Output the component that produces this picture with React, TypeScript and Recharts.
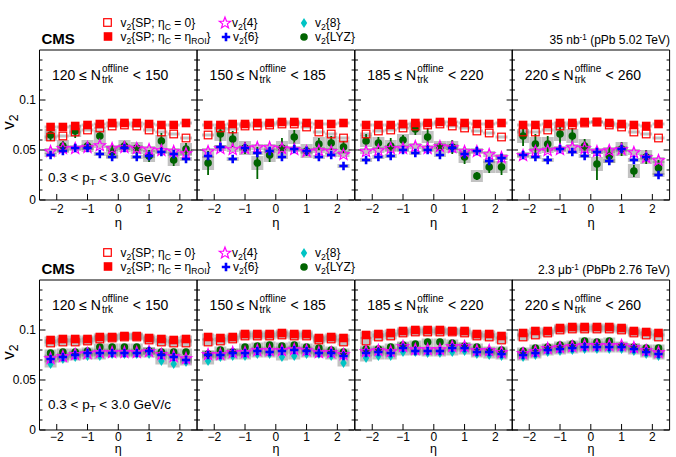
import React from 'react';
import { ScatterChart, Scatter, XAxis, YAxis, ErrorBar } from 'recharts';

const FONT = '"Liberation Sans", Arial, Helvetica, sans-serif';

// pseudorapidity bin centres (bin width 0.4)
const etaBins = [-2.2, -1.8, -1.4, -1.0, -0.6, -0.2, 0.2, 0.6, 1.0, 1.4, 1.8, 2.2];

// multiplicity classes, one per column
const multLow = [120, 150, 185, 220];
const multHigh = [150, 185, 220, 260];

// axis ticks
const xMajorTicks = [-2, -1, 0, 1, 2];
const xMinorTicks = [-2.4, -2.2, -1.8, -1.6, -1.4, -1.2, -0.8, -0.6, -0.4, -0.2, 0.2, 0.4, 0.6, 0.8, 1.2, 1.4, 1.6, 1.8, 2.2, 2.4];
const yMajorTicks = [0, 0.05, 0.1];
const yMinorTicks = [0.01, 0.02, 0.03, 0.04, 0.06, 0.07, 0.08, 0.09, 0.11, 0.12, 0.13, 0.14];

// ---- pPb 5.02 TeV ----
const spZeroPPb = [
  [0.063, 0.064, 0.068, 0.070, 0.072, 0.074, 0.075, 0.074, 0.070, 0.068, 0.066, 0.062],
  [0.065, 0.072, 0.071, 0.074, 0.074, 0.075, 0.076, 0.076, 0.073, 0.068, 0.066, 0.062],
  [0.066, 0.069, 0.070, 0.072, 0.074, 0.075, 0.076, 0.074, 0.072, 0.069, 0.067, 0.063],
  [0.068, 0.068, 0.070, 0.074, 0.075, 0.077, 0.078, 0.075, 0.073, 0.068, 0.066, 0.062],
];
const spRoiPPb = [
  [0.073, 0.073, 0.074, 0.075, 0.076, 0.077, 0.077, 0.077, 0.076, 0.075, 0.075, 0.077],
  [0.075, 0.075, 0.076, 0.076, 0.077, 0.077, 0.078, 0.078, 0.077, 0.076, 0.076, 0.077],
  [0.075, 0.075, 0.075, 0.076, 0.077, 0.077, 0.078, 0.078, 0.077, 0.076, 0.076, 0.077],
  [0.075, 0.075, 0.076, 0.077, 0.077, 0.078, 0.078, 0.077, 0.076, 0.075, 0.074, 0.076],
];
const cum4PPb = [
  [0.049, 0.052, 0.052, 0.053, 0.055, 0.052, 0.053, 0.052, 0.051, 0.050, 0.049, 0.047],
  [0.049, 0.052, 0.051, 0.052, 0.053, 0.053, 0.052, 0.051, 0.049, 0.050, 0.049, 0.046],
  [0.049, 0.050, 0.052, 0.052, 0.054, 0.052, 0.054, 0.053, 0.049, 0.049, 0.046, 0.043],
  [0.045, 0.049, 0.050, 0.051, 0.053, 0.052, 0.049, 0.050, 0.051, 0.048, 0.043, 0.040],
];
const cum6PPb = [
  [0.045, 0.049, 0.052, 0.052, 0.046, 0.043, 0.052, 0.043, 0.044, 0.048, 0.046, 0.041],
  [0.044, 0.053, 0.041, 0.052, 0.047, 0.049, 0.043, 0.051, 0.049, 0.043, 0.045, 0.034],
  [0.040, 0.043, 0.044, 0.050, 0.047, 0.050, 0.045, 0.052, 0.046, 0.049, 0.039, 0.042],
  [0.045, 0.043, 0.040, 0.051, 0.048, 0.044, 0.048, 0.039, 0.051, 0.040, 0.043, 0.025],
];
const lyzPPb = [
  [0.065, 0.054, 0.069, 0.054, 0.064, 0.048, 0.054, 0.052, 0.044, 0.059, 0.040, 0.051],
  [0.037, 0.066, 0.061, 0.052, 0.037, 0.045, 0.052, 0.063, 0.049, 0.056, 0.057, 0.053],
  [0.059, 0.057, 0.054, 0.060, 0.071, 0.063, 0.053, 0.053, 0.043, 0.024, 0.033, 0.033],
  [0.064, 0.056, 0.056, 0.066, 0.064, 0.054, 0.036, 0.044, 0.051, 0.029, 0.043, 0.032],
];
const lyzStatPPb = [
  [0.006, 0.005, 0.007, 0.004, 0.004, 0.007, 0.005, 0.005, 0.006, 0.008, 0.006, 0.006],
  [0.012, 0.013, 0.008, 0.006, 0.016, 0.007, 0.010, 0.007, 0.005, 0.006, 0.007, 0.006],
  [0.007, 0.006, 0.008, 0.005, 0.006, 0.009, 0.006, 0.007, 0.007, 0.004, 0.006, 0.008],
  [0.010, 0.010, 0.008, 0.010, 0.008, 0.007, 0.016, 0.009, 0.007, 0.006, 0.007, 0.008],
];
const lyzSysPPb = [0.006, 0.007, 0.006, 0.007];

// ---- PbPb 2.76 TeV ----
const spZeroPbPb = [
  [0.087, 0.088, 0.088, 0.089, 0.091, 0.092, 0.093, 0.093, 0.090, 0.088, 0.087, 0.087],
  [0.088, 0.089, 0.091, 0.094, 0.094, 0.094, 0.095, 0.094, 0.094, 0.090, 0.091, 0.088],
  [0.089, 0.093, 0.094, 0.097, 0.098, 0.098, 0.098, 0.098, 0.097, 0.094, 0.093, 0.090],
  [0.093, 0.095, 0.097, 0.100, 0.101, 0.101, 0.101, 0.101, 0.100, 0.097, 0.095, 0.093],
];
const spRoiPbPb = [
  [0.090, 0.091, 0.091, 0.091, 0.093, 0.093, 0.094, 0.094, 0.092, 0.091, 0.090, 0.091],
  [0.093, 0.092, 0.093, 0.096, 0.096, 0.096, 0.097, 0.096, 0.096, 0.092, 0.093, 0.092],
  [0.095, 0.096, 0.097, 0.099, 0.100, 0.100, 0.100, 0.099, 0.099, 0.096, 0.096, 0.094],
  [0.097, 0.099, 0.099, 0.102, 0.103, 0.103, 0.103, 0.103, 0.102, 0.099, 0.098, 0.097],
];
const cum4PbPb = [
  [0.072, 0.074, 0.076, 0.077, 0.078, 0.078, 0.078, 0.078, 0.079, 0.076, 0.074, 0.072],
  [0.076, 0.076, 0.078, 0.078, 0.080, 0.080, 0.080, 0.081, 0.080, 0.078, 0.078, 0.076],
  [0.079, 0.080, 0.079, 0.084, 0.081, 0.081, 0.081, 0.084, 0.084, 0.080, 0.080, 0.078],
  [0.077, 0.079, 0.082, 0.083, 0.084, 0.085, 0.085, 0.085, 0.085, 0.083, 0.080, 0.078],
];
const cum6PbPb = [
  [0.071, 0.073, 0.075, 0.077, 0.077, 0.077, 0.077, 0.077, 0.079, 0.075, 0.073, 0.070],
  [0.075, 0.075, 0.077, 0.077, 0.079, 0.078, 0.079, 0.080, 0.079, 0.077, 0.077, 0.074],
  [0.077, 0.078, 0.077, 0.082, 0.079, 0.079, 0.079, 0.082, 0.082, 0.078, 0.078, 0.076],
  [0.075, 0.077, 0.080, 0.081, 0.082, 0.083, 0.083, 0.083, 0.083, 0.081, 0.078, 0.076],
];
const cum8PbPb = [
  [0.066, 0.071, 0.073, 0.074, 0.074, 0.076, 0.076, 0.076, 0.076, 0.069, 0.066, 0.068],
  [0.069, 0.073, 0.074, 0.074, 0.076, 0.076, 0.073, 0.074, 0.076, 0.076, 0.074, 0.067],
  [0.072, 0.074, 0.074, 0.078, 0.078, 0.077, 0.077, 0.078, 0.079, 0.076, 0.075, 0.074],
  [0.073, 0.075, 0.078, 0.079, 0.080, 0.081, 0.081, 0.081, 0.081, 0.079, 0.076, 0.074],
];
const lyzPbPb = [
  [0.077, 0.078, 0.078, 0.079, 0.083, 0.083, 0.083, 0.083, 0.079, 0.078, 0.078, 0.078],
  [0.076, 0.080, 0.078, 0.083, 0.084, 0.085, 0.084, 0.085, 0.083, 0.082, 0.080, 0.078],
  [0.081, 0.081, 0.083, 0.085, 0.086, 0.088, 0.088, 0.087, 0.084, 0.083, 0.079, 0.080],
  [0.079, 0.082, 0.083, 0.085, 0.086, 0.089, 0.088, 0.089, 0.084, 0.083, 0.082, 0.082],
];

// systematic half-heights of the grey boxes
const sysSpPPb = 0.0015;
const sysCum4PPb = 0.003;
const sysCum6PPb = 0.002;
const sysPbPb = 0.0035;
const statLyzPbPb = 0.0008;

// layout
const X_DOMAIN: [number, number] = [-2.56, 2.56];
const Y_DOMAIN: [number, number] = [0, 0.15];
const PLOT_X0 = 39.5;
const PLOT_W = 157.6;
const PLOT_H = 150;
const ROW_TOP = [49.5, 279.5];
const ROW_SHIFT = 230;
const THIN = 0.001; // axis band thickness (axes must be non-empty to render)

const RED = '#ff0000';
const MAGENTA = '#ff00ff';
const BLUE = '#0000ff';
const CYAN = '#00c4c4';
const GREEN = '#006400';
const BOX = 'rgba(120,120,120,0.45)';

type Pt = { eta: number; v: number; sys: number; err: number };

const toPoints = (vals: number[], sys: number, err: number | number[] = 0): Pt[] =>
  etaBins.map((eta, k) => ({
    eta,
    v: vals[k],
    sys,
    err: Array.isArray(err) ? err[k] : err,
  }));

const fmtEta = (v: number) => (v < 0 ? '\u2212' + Math.abs(v) : String(v));

// ---- marker shapes ----
const Hidden = () => <g />;
const NoLabel = () => <g />;

const OpenSquare = ({ cx, cy }: any) =>
  cx == null ? <g /> : (
    <rect x={cx - 3.8} y={cy - 3.8} width={7.6} height={7.6} fill="none" stroke={RED} strokeWidth={1.2} />
  );
const FilledSquare = ({ cx, cy }: any) =>
  cx == null ? <g /> : <rect x={cx - 4.3} y={cy - 4.3} width={8.6} height={8.6} fill={RED} />;
const starPath = (cx: number, cy: number, R: number, r: number) => {
  let d = '';
  for (let k = 0; k < 10; k++) {
    const a = -Math.PI / 2 + (k * Math.PI) / 5;
    const rad = k % 2 === 0 ? R : r;
    d += (k ? 'L' : 'M') + (cx + rad * Math.cos(a)).toFixed(2) + ',' + (cy + rad * Math.sin(a)).toFixed(2);
  }
  return d + 'Z';
};
const StarMark = ({ cx, cy }: any) =>
  cx == null ? <g /> : <path d={starPath(cx, cy + 0.6, 6, 2.5)} fill="none" stroke={MAGENTA} strokeWidth={1.2} strokeLinejoin="miter" />;
const CrossMark = ({ cx, cy }: any) =>
  cx == null ? <g /> : (
    <path d={`M${cx - 4.2},${cy}H${cx + 4.2}M${cx},${cy - 4.2}V${cy + 4.2}`} stroke={BLUE} strokeWidth={2.6} fill="none" />
  );
const DiamondMark = ({ cx, cy }: any) =>
  cx == null ? <g /> : (
    <path d={`M${cx},${cy - 5}L${cx + 3.2},${cy}L${cx},${cy + 5}L${cx - 3.2},${cy}Z`} fill={CYAN} />
  );
const CircleMark = ({ cx, cy }: any) =>
  cx == null ? <g /> : <circle cx={cx} cy={cy} r={3.8} fill={GREEN} />;

// ---- text helpers ----
const Sub = ({ children }: any) => (
  <span style={{ fontSize: '0.72em', position: 'relative', top: '0.32em' }}>{children}</span>
);
const Sup = ({ children }: any) => (
  <span style={{ fontSize: '0.68em', position: 'relative', top: '-0.5em' }}>{children}</span>
);
const SubSup = ({ sup, sub, w }: any) => (
  <span style={{ position: 'relative', display: 'inline-block', width: w, height: 0 }}>
    <span style={{ position: 'absolute', left: 1, top: -15.3, fontSize: 10, lineHeight: '10px' }}>{sup}</span>
    <span style={{ position: 'absolute', left: 1, top: -4.3, fontSize: 10, lineHeight: '10px' }}>{sub}</span>
  </span>
);

function Panel({ row, col }: { row: number; col: number }) {
  const pPb = row === 0;
  const first = col === 0;
  const plotLeft = PLOT_X0 + col * PLOT_W;
  const mLeft = first ? plotLeft : 1;
  const width = mLeft + PLOT_W + 1;
  const height = 1 + PLOT_H + 34;

  const sp0 = toPoints((pPb ? spZeroPPb : spZeroPbPb)[col], pPb ? sysSpPPb : sysPbPb);
  const spR = toPoints((pPb ? spRoiPPb : spRoiPbPb)[col], pPb ? sysSpPPb : sysPbPb);
  const c4 = toPoints((pPb ? cum4PPb : cum4PbPb)[col], pPb ? sysCum4PPb : sysPbPb);
  const c6 = toPoints((pPb ? cum6PPb : cum6PbPb)[col], pPb ? sysCum6PPb : sysPbPb);
  const c8 = pPb ? [] : toPoints(cum8PbPb[col], sysPbPb);
  const lyz = pPb
    ? toPoints(lyzPPb[col], lyzSysPPb[col], lyzStatPPb[col])
    : toPoints(lyzPbPb[col], sysPbPb, statLyzPbPb);

  const all = [sp0, spR, c4, c6, c8, lyz];
  const ax = { type: 'number' as const, allowDataOverflow: true, interval: 0 as const, stroke: '#000' };
  // margins leave room for the four hairline-thin axis bands
  const m = { top: 1 - 2 * THIN, right: 1 - 2 * THIN, bottom: 34 - 2 * THIN, left: mLeft - 2 * THIN };

  return (
    <div style={{ position: 'absolute', left: plotLeft - mLeft, top: ROW_TOP[row] - 1 }}>
      <ScatterChart width={width} height={height} margin={m}>
        <XAxis xAxisId="xm" domain={X_DOMAIN} ticks={xMinorTicks} height={THIN} tickSize={-3} tick={NoLabel} axisLine={false} {...ax} />
        <XAxis
          xAxisId="x"
          dataKey="eta"
          domain={X_DOMAIN}
          ticks={xMajorTicks}
          height={THIN}
          tickSize={-6}
          tickMargin={pPb ? 10 : 8}
          tickFormatter={fmtEta}
          tick={{ fill: '#000', fontSize: 12 }}
          {...ax}
        />
        <XAxis xAxisId="xtm" orientation="top" domain={X_DOMAIN} ticks={xMinorTicks} height={THIN} tickSize={-3} tick={NoLabel} axisLine={false} {...ax} />
        <XAxis xAxisId="xt" orientation="top" domain={X_DOMAIN} ticks={xMajorTicks} height={THIN} tickSize={-6} tick={NoLabel} {...ax} />
        <YAxis yAxisId="ym" domain={Y_DOMAIN} ticks={yMinorTicks} width={THIN} tickSize={-3} tick={NoLabel} axisLine={false} {...ax} />
        <YAxis
          yAxisId="y"
          dataKey="v"
          domain={Y_DOMAIN}
          ticks={yMajorTicks}
          width={THIN}
          tickSize={-6}
          tickMargin={9.5}
          tick={first ? { fill: '#000', fontSize: 12 } : NoLabel}
          {...ax}
        />
        <YAxis yAxisId="yrm" orientation="right" domain={Y_DOMAIN} ticks={yMinorTicks} width={THIN} tickSize={-3} tick={NoLabel} axisLine={false} {...ax} />
        <YAxis yAxisId="yr" orientation="right" domain={Y_DOMAIN} ticks={yMajorTicks} width={THIN} tickSize={-6} tick={NoLabel} {...ax} />

        {all.map((pts, k) => (
          <Scatter key={'sys' + k} data={pts} xAxisId="x" yAxisId="y" shape={Hidden} isAnimationActive={false}>
            <ErrorBar dataKey="sys" direction="y" width={0} stroke={BOX} strokeWidth={12} isAnimationActive={false} />
          </Scatter>
        ))}
        <Scatter data={lyz} xAxisId="x" yAxisId="y" shape={CircleMark} isAnimationActive={false}>
          <ErrorBar dataKey="err" direction="y" width={0} stroke={GREEN} strokeWidth={1.8} isAnimationActive={false} />
        </Scatter>
        <Scatter data={sp0} xAxisId="x" yAxisId="y" shape={OpenSquare} isAnimationActive={false} />
        <Scatter data={spR} xAxisId="x" yAxisId="y" shape={FilledSquare} isAnimationActive={false} />
        <Scatter data={c8} xAxisId="x" yAxisId="y" shape={DiamondMark} isAnimationActive={false} />
        <Scatter data={c4} xAxisId="x" yAxisId="y" shape={StarMark} isAnimationActive={false} />
        <Scatter data={c6} xAxisId="x" yAxisId="y" shape={CrossMark} isAnimationActive={false} />
      </ScatterChart>
    </div>
  );
}

function Header({ row, lumi }: { row: number; lumi: React.ReactNode }) {
  const dy = row * ROW_SHIFT;
  const txt = { position: 'absolute' as const, fontSize: 12, lineHeight: '12px', whiteSpace: 'nowrap' as const };
  return (
    <>
      <svg width={676} height={50} style={{ position: 'absolute', left: 0, top: dy }}>
        <OpenSquare cx={107.5} cy={22.5} />
        <FilledSquare cx={108} cy={36.5} />
        <StarMark cx={225} cy={22.5} />
        <CrossMark cx={226} cy={37} />
        <DiamondMark cx={304} cy={23} />
        <CircleMark cx={304} cy={37} />
      </svg>
      <div style={{ ...txt, left: 120.5, top: 17 + dy }}>
        v<Sub>2</Sub>{'{'}SP; η<Sub>C</Sub> = 0{'}'}
      </div>
      <div style={{ ...txt, left: 120.5, top: 31 + dy }}>
        v<Sub>2</Sub>{'{'}SP; η<Sub>C</Sub> = η<Sub>ROI</Sub>{'}'}
      </div>
      <div style={{ ...txt, left: 232, top: 17 + dy }}>
        v<Sub>2</Sub>{'{4}'}
      </div>
      <div style={{ ...txt, left: 233, top: 31 + dy }}>
        v<Sub>2</Sub>{'{6}'}
      </div>
      <div style={{ ...txt, left: 315, top: 17 + dy }}>
        v<Sub>2</Sub>{'{8}'}
      </div>
      <div style={{ ...txt, left: 315, top: 31 + dy }}>
        v<Sub>2</Sub>{'{LYZ}'}
      </div>
      <div style={{ position: 'absolute', left: 41.5, top: 30.8 + dy, fontSize: 15, lineHeight: '15px', fontWeight: 'bold' }}>
        CMS
      </div>
      <div style={{ ...txt, right: 6, top: 34 + dy }}>{lumi}</div>
    </>
  );
}

function PanelText({ row, col }: { row: number; col: number }) {
  const dy = row * ROW_SHIFT;
  const left = PLOT_X0 + col * PLOT_W;
  return (
    <>
      <div style={{ position: 'absolute', left: left + 12.5, top: 67.7 + dy, fontSize: 14, lineHeight: '14px', whiteSpace: 'nowrap' }}>
        {multLow[col]} ≤ N<SubSup sup="offline" sub="trk" w={28} /> &lt; {multHigh[col]}
      </div>
      <div
        style={{
          position: 'absolute',
          left: left + PLOT_W / 2,
          top: row === 0 ? 218.5 : 446.4,
          transform: 'translateX(-50%)',
          fontSize: row === 0 ? 13 : 12.5,
          lineHeight: row === 0 ? '8px' : '7px',
        }}
      >
        η
      </div>
    </>
  );
}

export default function App() {
  return (
    <div
      style={{
        position: 'absolute',
        left: 0,
        top: 0,
        width: 676,
        height: 457,
        background: '#fff',
        fontFamily: FONT,
        color: '#000',
        overflow: 'hidden',
      }}
    >
      {[0, 1].map((row) => [0, 1, 2, 3].map((col) => <Panel key={row + '-' + col} row={row} col={col} />))}
      <Header row={0} lumi={<>35 nb<Sup>-1</Sup> (pPb 5.02 TeV)</>} />
      <Header row={1} lumi={<>2.3 μb<Sup>-1</Sup> (PbPb 2.76 TeV)</>} />
      {[0, 1].map((row) => [0, 1, 2, 3].map((col) => <PanelText key={'t' + row + col} row={row} col={col} />))}
      {[0, 1].map((row) => (
        <div
          key={'v' + row}
          style={{
            position: 'absolute',
            left: 9,
            top: 122 + row * ROW_SHIFT,
            transform: 'translate(-50%, -50%) rotate(-90deg)',
            fontSize: 17,
            lineHeight: '17px',
            whiteSpace: 'nowrap',
          }}
        >
          v<Sub>2</Sub>
        </div>
      ))}
      {[0, 1].map((row) => (
        <div
          key={'pt' + row}
          style={{ position: 'absolute', left: 48, top: (row === 0 ? 170.8 : 398.3), fontSize: 13.5, lineHeight: '13.5px', whiteSpace: 'nowrap' }}
        >
          0.3 &lt; p<Sub>T</Sub> &lt; 3.0 GeV/c
        </div>
      ))}
    </div>
  );
}
